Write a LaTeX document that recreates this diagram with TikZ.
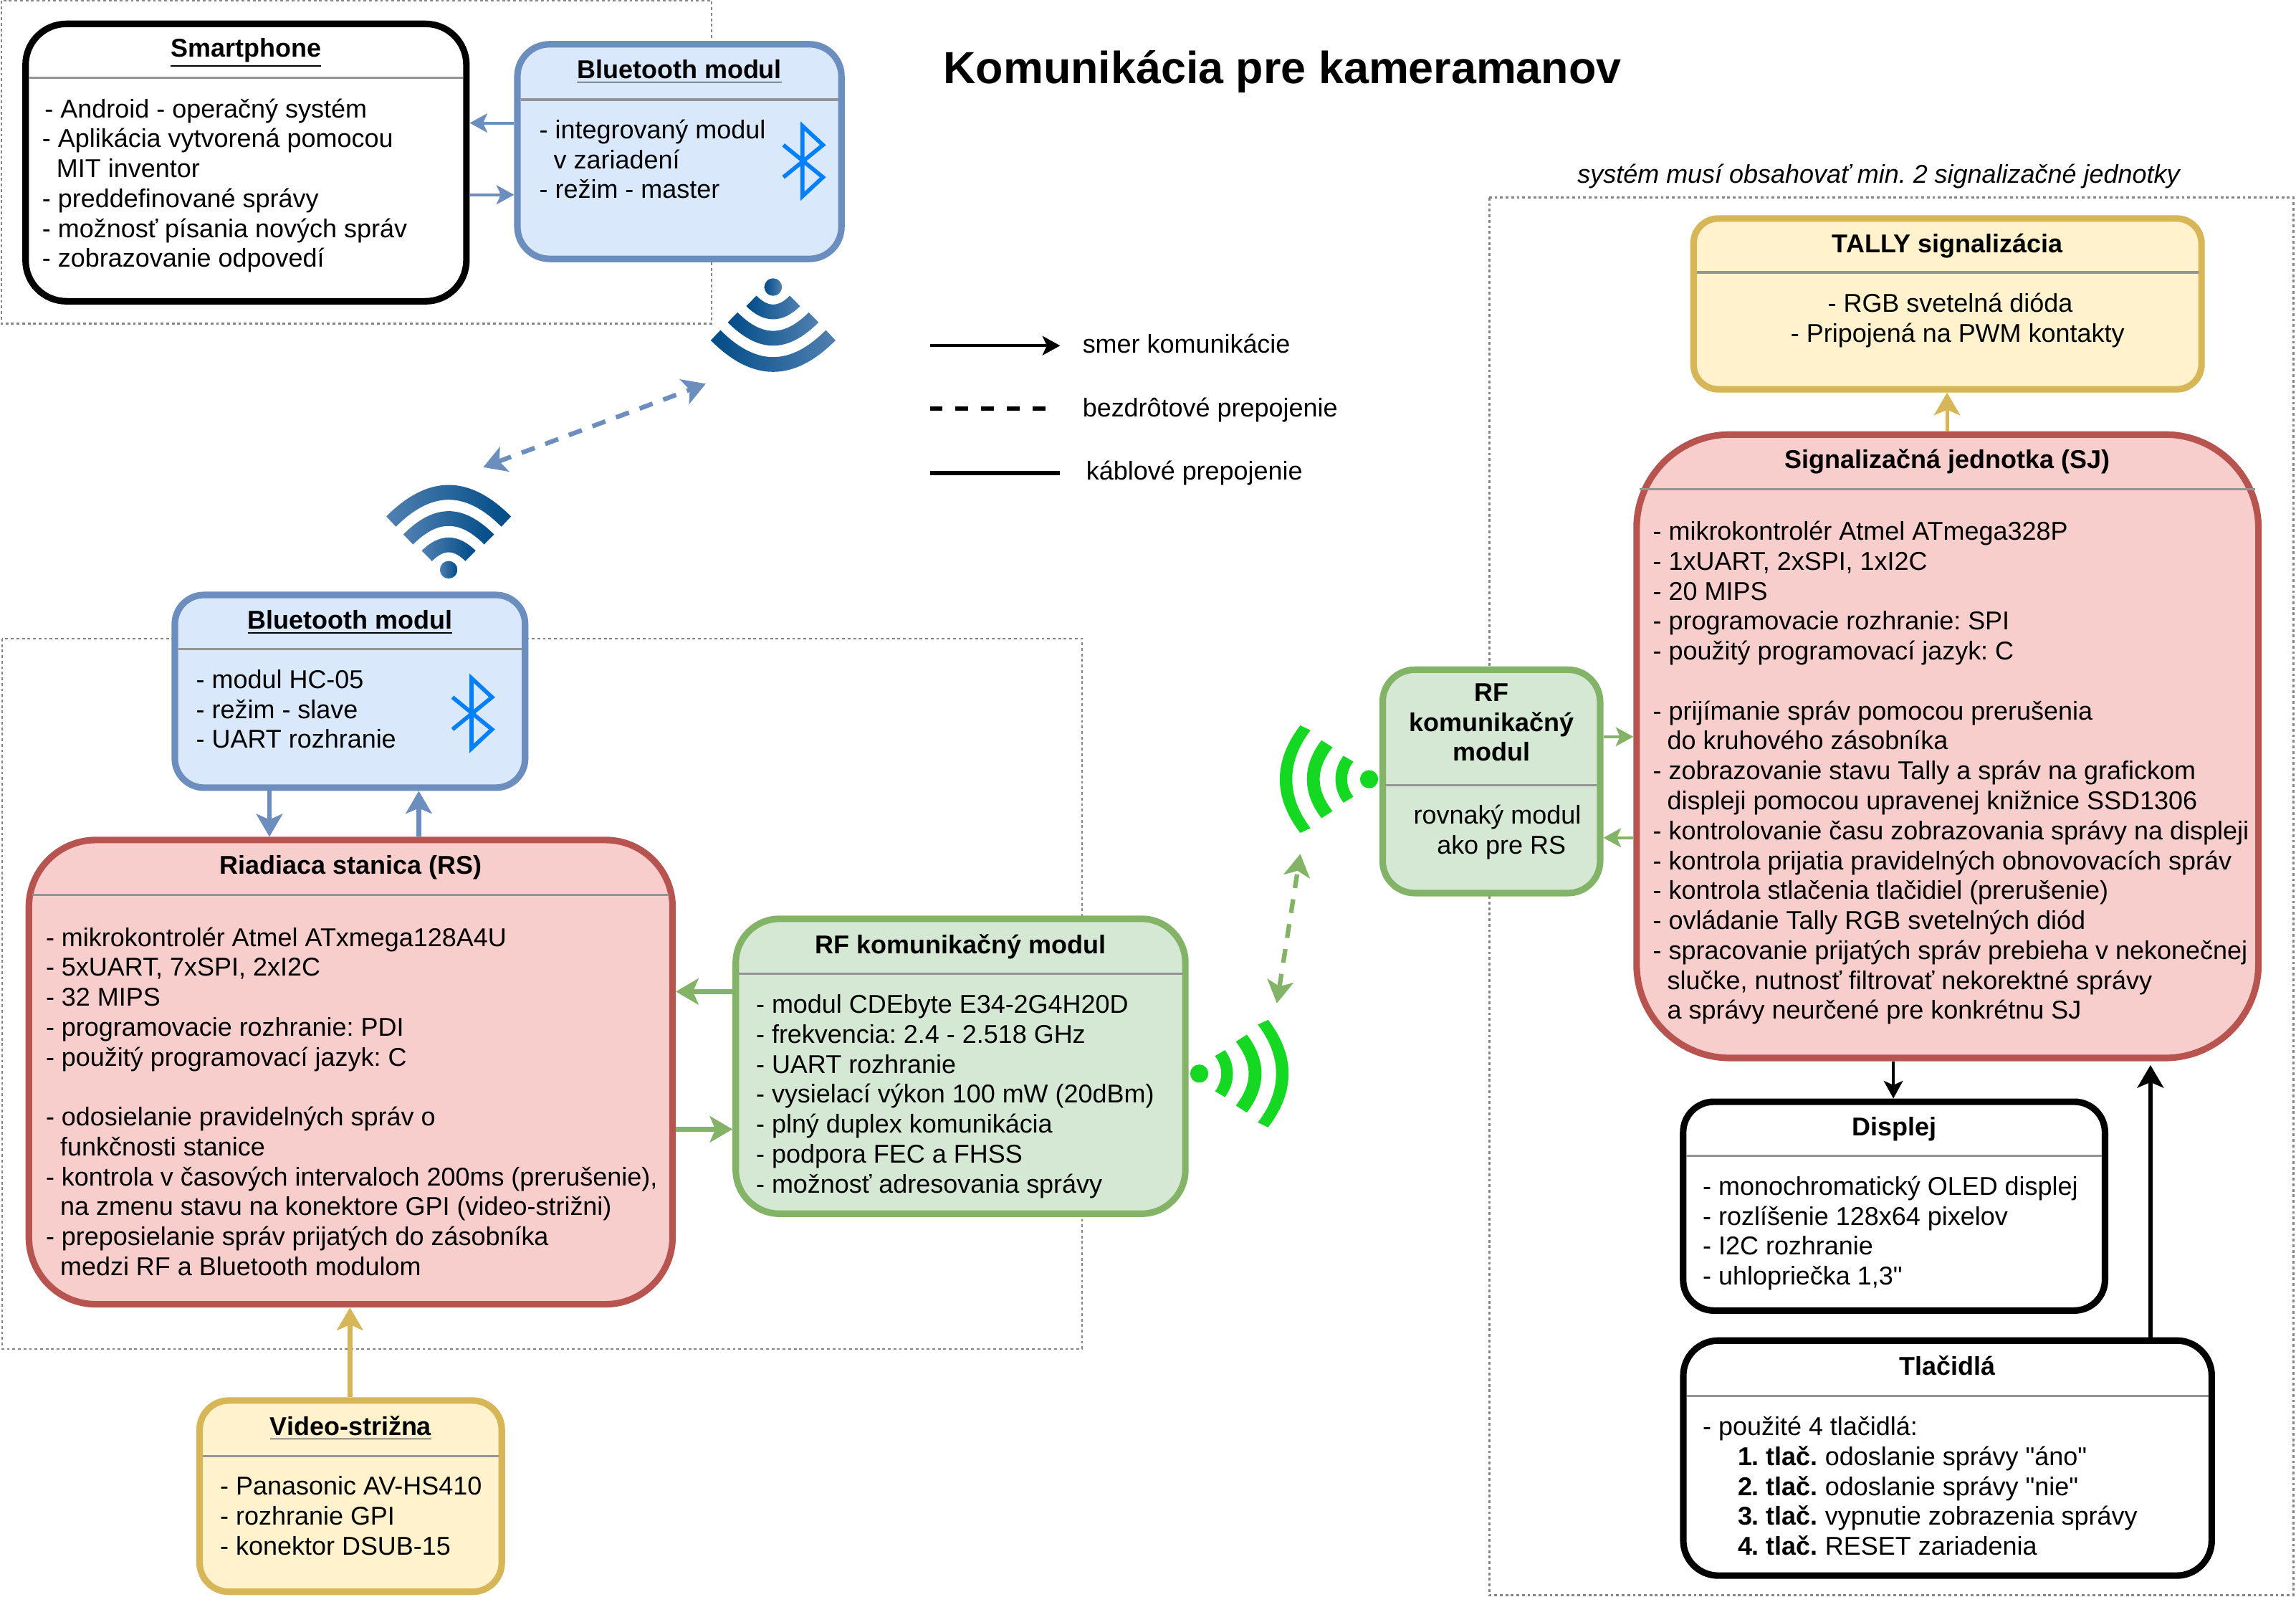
\documentclass[tikz,border=0pt]{standalone}
\usepackage{fontspec}
\setmainfont{Liberation Sans}[Ligatures=TeXOff]
\usetikzlibrary{arrows.meta}

\definecolor{blueline}{HTML}{6C8EBF}
\definecolor{bluefill}{HTML}{DAE8FC}
\definecolor{redline}{HTML}{B85450}
\definecolor{redfill}{HTML}{F8CECC}
\definecolor{greenline}{HTML}{82B366}
\definecolor{greenfill}{HTML}{D5E8D4}
\definecolor{goldline}{HTML}{D6B656}
\definecolor{goldfill}{HTML}{FFF2CC}
\definecolor{wifidark}{HTML}{004C88}
\definecolor{wifimid}{HTML}{00639C}
\definecolor{wifilight}{HTML}{5080B0}
\definecolor{wifigreen}{HTML}{14D822}
\definecolor{btblue}{HTML}{007FFF}

\newcommand{\px}{0.5795pt}
\newcommand{\ind}{\hspace*{5.7pt}}
\newcommand{\wifiband}[8]{\path[#1] (#2,-#3) .. controls ({#2+(#4-#2)*4/3},{-#3+#8*(#4-#2)*4/3}) and ({#2+(#4-#2)*4/3},{#3-#8*(#4-#2)*4/3}) .. (#2,#3) -- (#5,#6) .. controls ({#5+(#7-#5)*4/3},{#6-#8*(#7-#5)*4/3}) and ({#5+(#7-#5)*4/3},{-#6+#8*(#7-#5)*4/3}) .. (#5,-#6) -- cycle;}
\newcommand{\wifiblue}[1]{%
  \path[#1] (0,0) circle (6);
  \wifiband{#1}{36.4}{42.6}{57.9}{29.4}{36}{47.8}{1}
  \wifiband{#1}{24.1}{31}{40}{17.3}{24.3}{29.9}{1}
  \wifiband{#1}{13}{18.4}{22}{5.9}{11.4}{11.9}{1}}

\tikzset{
  panel/.style={rectangle,line width=2.6pt,inner sep=0pt},
  bluebox/.style={panel,draw=blueline,fill=bluefill},
  redbox/.style={panel,draw=redline,fill=redfill},
  greenbox/.style={panel,draw=greenline,fill=greenfill},
  goldbox/.style={panel,draw=goldline,fill=goldfill},
  blackbox/.style={panel,draw=black,fill=white},
  titletext/.style={anchor=base,inner sep=0pt,align=center,font=\fontsize{10.23}{11.88}\selectfont\bfseries},
  bodytext/.style={anchor=north west,inner sep=0pt,align=left,yshift=-0.6pt,execute at begin node=\strut},
  legendtext/.style={anchor=base west,inner sep=0pt},
  divider/.style={draw=black!42,line width=.9pt,shorten >=2.6pt,shorten <=2.6pt},
  frameline/.style={draw=black!48,line width=.8pt,dash pattern=on 1.1pt off 1.1pt},
  thinarrow/.style={-{Stealth[length=7pt,width=7.6pt,inset=1.7pt]},line width=1.1pt},
  thickarrow/.style={-{Stealth[length=9pt,width=10.4pt,inset=2.2pt]},line width=1.8pt},
  airlink/.style={{Stealth[length=9pt,width=10.4pt,inset=2.2pt]}-{Stealth[length=9pt,width=10.4pt,inset=2.2pt]},line width=1.8pt,dash pattern=on 5.5pt off 4.5pt},
  btglyph/.pic={\draw[btblue,line width=1.6pt,miter limit=6] (-13,-11) -- (14,11) -- (0,24) -- (0,-24) -- (14,-11) -- (-13,11);},
  wifiup/.pic={\wifiblue{left color=wifilight,middle color=wifimid,right color=wifidark}},
  wifidown/.pic={\wifiblue{left color=wifidark,middle color=wifimid,right color=wifilight}},
  rfwaves/.pic={
    \path[fill=wifigreen] (0,0) circle (6.2);
    \wifiband{fill=wifigreen}{47}{36.7}{61}{40}{33.4}{52.5}{1.3}
    \wifiband{fill=wifigreen}{32.5}{26.6}{42.5}{25}{21.8}{33.75}{1.3}
    \wifiband{fill=wifigreen}{17.5}{16}{23}{10.75}{12}{15}{1.3}}
}

\begin{document}
\frenchspacing
\begin{tikzpicture}[x=0.020434cm,y=-0.020434cm,font=\fontsize{10.23}{11.88}\selectfont]
\useasboundingbox (0,0) rectangle (1568,1090);

% frames
\draw[frameline] (1,0.5) rectangle (486,221);
\draw[frameline] (1.5,436) rectangle (739,921);
\draw[frameline] (1017,135) rectangle (1566.3,1089);

\node[anchor=base west,inner sep=0pt,font=\fontsize{17.87}{20}\selectfont\bfseries] (maintitle) at (644,57) {Komunikácia pre kameramanov};
\node[anchor=base west,inner sep=0pt,font=\fontsize{10.23}{11.88}\selectfont\itshape] (sjnote) at (1077,125) {systém musí obsahovať min. 2 signalizačné jednotky};

% smartphone
\node[blackbox,minimum width=302*\px,minimum height=190*\px,rounded corners=28*\px] (smartphone) at (168,111) {};
\node[titletext] (smartphone title) at (168,39) {\underline{Smartphone}};
\draw[divider] (smartphone.west |- 0,53) -- (smartphone.east |- 0,53);
\node[bodytext] (smartphone body) at (28.5,66) {\hspace*{1pt}- Android - operačný systém\\- Aplikácia vytvorená pomocou\\\ind MIT inventor\\- preddefinované správy\\- možnosť písania nových správ\\- zobrazovanie odpovedí};

% bluetooth in the phone
\node[bluebox,minimum width=222*\px,minimum height=147*\px,rounded corners=22*\px] (btmaster) at (464,103.5) {};
\node[titletext] (btmaster title) at (464,53.5) {\underline{Bluetooth modul}};
\draw[divider] (btmaster.west |- 0,68) -- (btmaster.east |- 0,68);
\node[bodytext] (btmaster body) at (368,80.3) {- integrovaný modul\\\ind v zariadení\\- režim - master};
\pic at (548,110) {btglyph};

\draw[thinarrow,blueline] (btmaster.west |- 0,84) -- (smartphone.east |- 0,84);
\draw[thinarrow,blueline] (smartphone.east |- 0,133) -- (btmaster.west |- 0,133);

% wireless link
\pic[rotate=-90] at (528,196) {wifidown};
\pic[rotate=90] at (306.4,389) {wifiup};
\coordinate (btlink top) at (482,262);
\coordinate (btlink bottom) at (330,319);
\draw[airlink,blueline] (btlink bottom) -- (btlink top);

% legend
\coordinate (legend a) at (635,236);
\coordinate (legend b) at (724,236);
\coordinate (legend c) at (635,279);
\coordinate (legend d) at (715,279);
\coordinate (legend e) at (635,323);
\coordinate (legend f) at (724,323);
\draw[thinarrow] (legend a) -- (legend b);
\draw[line width=1.5pt,dash pattern=on 5.1pt off 5.1pt] (legend c) -- (legend d);
\draw[line width=1.8pt] (legend e) -- (legend f);
\node[legendtext] (legend one) at (739,241) {smer komunikácie};
\node[legendtext] (legend two) at (739,284.7) {bezdrôtové prepojenie};
\node[legendtext] (legend three) at (741.5,327.7) {káblové prepojenie};

% bluetooth of the station
\node[bluebox,minimum width=240*\px,minimum height=132*\px,rounded corners=20*\px] (btslave) at (239,472) {};
\node[titletext] (btslave title) at (239,429.6) {\underline{Bluetooth modul}};
\draw[divider] (btslave.west |- 0,443) -- (btslave.east |- 0,443);
\node[bodytext] (btslave body) at (133.6,455.9) {- modul HC-05\\- režim - slave\\- UART rozhranie};
\pic at (322,487) {btglyph};

% station
\node[redbox,minimum width=441*\px,minimum height=318*\px,rounded corners=46*\px] (rs) at (239.5,732) {};
\node[titletext] (rs title) at (239.5,596.6) {Riadiaca stanica (RS)};
\draw[divider] (rs.west |- 0,611) -- (rs.east |- 0,611);
\node[bodytext] (rs body) at (31,631.7) {- mikrokontrolér Atmel ATxmega128A4U\\- 5xUART, 7xSPI, 2xI2C\\- 32 MIPS\\- programovacie rozhranie: PDI\\- použitý programovací jazyk: C\\[11.88pt]- odosielanie pravidelných správ o\\\ind funkčnosti stanice\\- kontrola v časových intervaloch 200ms (prerušenie),\\\ind na zmenu stavu na konektore GPI (video-strižni)\\- preposielanie správ prijatých do zásobníka\\\ind medzi RF a Bluetooth modulom};

\draw[thickarrow,blueline] (btslave.south -| 184,0) -- (rs.north -| 184,0);
\draw[thickarrow,blueline] (rs.north -| 286,0) -- (btslave.south -| 286,0);

% rf of the station
\node[greenbox,minimum width=308*\px,minimum height=202*\px,rounded corners=30*\px] (rfrs) at (656,728) {};
\node[titletext] (rfrs title) at (656,651) {RF komunikačný modul};
\draw[divider] (rfrs.west |- 0,665) -- (rfrs.east |- 0,665);
\node[bodytext] (rfrs body) at (516,677.7) {- modul CDEbyte E34-2G4H20D\\- frekvencia: 2.4 - 2.518 GHz\\- UART rozhranie\\- vysielací výkon 100 mW (20dBm)\\- plný duplex komunikácia\\- podpora FEC a FHSS\\- možnosť adresovania správy};

\draw[thickarrow,greenline] (rfrs.west |- 0,677) -- (rs.east |- 0,677);
\draw[thickarrow,greenline] (rs.east |- 0,771) -- (rfrs.west |- 0,771);
\pic at (819,733) {rfwaves};

% video mixer
\node[goldbox,minimum width=207*\px,minimum height=131*\px,rounded corners=20*\px] (video) at (239.5,1021.5) {};
\node[titletext] (video title) at (239.5,980) {\underline{Video-strižna}};
\draw[divider] (video.west |- 0,994) -- (video.east |- 0,994);
\node[bodytext] (video body) at (150,1006.7) {- Panasonic AV-HS410\\- rozhranie GPI\\- konektor DSUB-15};

\draw[thickarrow,goldline] (video.north -| 239,0) -- (rs.south -| 239,0);

% rf of the signal unit
\node[greenbox,minimum width=149*\px,minimum height=153*\px,rounded corners=22*\px] (rfsj) at (1018.5,533.5) {};
\node[titletext,anchor=north,execute at begin node=\strut] (rfsj title) at (1018.5,466.3) {RF\\komunikačný\\modul};
\draw[divider] (rfsj.west |- 0,536) -- (rfsj.east |- 0,536);
\node[bodytext] (rfsj body) at (965,548.3) {rovnaký modul\\\hspace*{9.3pt}ako pre RS};
\pic[xscale=-1] at (935,532) {rfwaves};

\coordinate (rflink top) at (888,583);
\coordinate (rflink bottom) at (872,685);
\draw[airlink,greenline] (rflink bottom) -- (rflink top);

% tally
\node[goldbox,minimum width=348*\px,minimum height=117*\px,rounded corners=17*\px] (tally) at (1330,207.5) {};
\node[titletext] (tally title) at (1330,172.5) {TALLY signalizácia};
\draw[divider] (tally.west |- 0,186) -- (tally.east |- 0,186);
\node[bodytext] (tally body) at (1222.6,198.7) {\hspace*{14.7pt}- RGB svetelná dióda\\- Pripojená na PWM kontakty};

% signal unit
\node[redbox,minimum width=426*\px,minimum height=427*\px,rounded corners=64*\px] (sj) at (1330,509.5) {};
\node[titletext] (sj title) at (1330,320) {Signalizačná jednotka (SJ)};
\draw[divider] (sj.west |- 0,334) -- (sj.east |- 0,334);
\node[bodytext] (sj body) at (1128.5,354.5) {- mikrokontrolér Atmel ATmega328P\\- 1xUART, 2xSPI, 1xI2C\\- 20 MIPS\\- programovacie rozhranie: SPI\\- použitý programovací jazyk: C\\[11.88pt]- prijímanie správ pomocou prerušenia\\\ind do kruhového zásobníka\\- zobrazovanie stavu Tally a správ na grafickom\\\ind displeji pomocou upravenej knižnice SSD1306\\- kontrolovanie času zobrazovania správy na displeji\\- kontrola prijatia pravidelných obnovovacích správ\\- kontrola stlačenia tlačidiel (prerušenie)\\- ovládanie Tally RGB svetelných diód\\- spracovanie prijatých správ prebieha v nekonečnej\\\ind slučke, nutnosť filtrovať nekorektné správy\\\ind a správy neurčené pre konkrétnu SJ};

\draw[thickarrow,goldline,line width=1.4pt] (sj.north -| 1329.7,0) -- (tally.south -| 1329.7,0);
\draw[thinarrow,greenline] (rfsj.east |- 0,503) -- (sj.west |- 0,503);
\draw[thinarrow,greenline] (sj.west |- 0,572) -- (rfsj.east |- 0,572);

% display
\node[blackbox,minimum width=289*\px,minimum height=143*\px,rounded corners=21*\px] (display) at (1293.5,823.5) {};
\node[titletext] (display title) at (1293.5,775.5) {Displej};
\draw[divider] (display.west |- 0,789) -- (display.east |- 0,789);
\node[bodytext] (display body) at (1162.5,801.7) {- monochromatický OLED displej\\- rozlíšenie 128x64 pixelov\\- I2C rozhranie\\- uhlopriečka 1,3"};

\draw[thinarrow,black] (sj.south -| 1293,0) -- (display.north -| 1293,0);

% buttons
\node[blackbox,minimum width=362*\px,minimum height=161*\px,rounded corners=24*\px] (buttons) at (1330,995.5) {};
\node[titletext] (buttons title) at (1330,939) {Tlačidlá};
\draw[divider] (buttons.west |- 0,953) -- (buttons.east |- 0,953);
\node[bodytext] (buttons body) at (1162.5,965.7) {- použité 4 tlačidlá:\\\hspace*{13.9pt}\textbf{1. tlač.} odoslanie správy "áno"\\\hspace*{13.9pt}\textbf{2. tlač.} odoslanie správy "nie"\\\hspace*{13.9pt}\textbf{3. tlač.} vypnutie zobrazenia správy\\\hspace*{13.9pt}\textbf{4. tlač.} RESET zariadenia};

\draw[thickarrow,black,shorten >=1.5pt] (buttons.north -| 1468.6,0) -- (sj.south -| 1468.6,0);
\end{tikzpicture}
\end{document}
